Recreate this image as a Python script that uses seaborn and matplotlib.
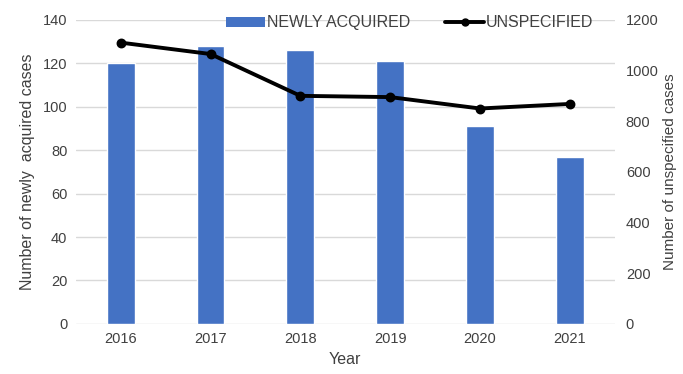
import matplotlib
matplotlib.use("Agg")
import matplotlib.pyplot as plt
import seaborn as sns
import pandas as pd
from matplotlib.patches import Patch
from matplotlib.lines import Line2D

years = ["2016", "2017", "2018", "2019", "2020", "2021"]
newly_acquired = [120, 128, 126, 121, 91, 77]
unspecified = [1110, 1065, 900, 895, 850, 868]

sns.set_theme(style="white")
plt.rcParams["font.family"] = ["Liberation Sans", "DejaVu Sans"]

df = pd.DataFrame({"Year": years, "Newly": newly_acquired, "Unspecified": unspecified})

fig = plt.figure(figsize=(6.83, 3.74), dpi=100)
ax = fig.add_axes([0.111, 0.134, 0.789, 0.813])

bar_color = "#4472C4"
text_color = "#404040"
grid_color = "#D9D9D9"

sns.barplot(data=df, x="Year", y="Newly", color=bar_color, width=0.31,
            saturation=1, ax=ax, zorder=2)
ax.set_ylim(0, 140)
ax.set_yticks(range(0, 141, 20))
ax.yaxis.grid(True, color=grid_color, linewidth=1, zorder=0)
ax.set_axisbelow(True)
for s in ax.spines.values():
    s.set_visible(False)
ax.tick_params(axis="both", length=0, labelsize=10.5, labelcolor=text_color, pad=6)
ax.set_xlabel("Year", fontsize=11.5, color=text_color, labelpad=4)
ax.set_ylabel("Number of newly  acquired cases", fontsize=11.5, color=text_color, labelpad=6)

ax2 = ax.twinx()
sns.pointplot(data=df, x="Year", y="Unspecified", color="black", markers="o",
              markersize=5, linewidth=2.8, ax=ax2)
ax2.set_ylim(0, 1200)
ax2.set_yticks(range(0, 1201, 200))
for s in ax2.spines.values():
    s.set_visible(False)
ax2.tick_params(axis="y", length=0, labelsize=10.5, labelcolor=text_color, pad=8)
ax2.set_ylabel("Number of unspecified cases", fontsize=11, color=text_color, labelpad=3)
ax2.set_xlim(ax.get_xlim())

handles = [
    Patch(facecolor=bar_color, edgecolor="none"),
    Line2D([0], [0], color="black", linewidth=2.8, marker="o", markersize=5),
]
leg = ax2.legend(handles, ["NEWLY ACQUIRED", "UNSPECIFIED"], loc="center",
                 bbox_to_anchor=(0.62, 0.99), ncol=2, frameon=False,
                 fontsize=11.5, handlelength=2.4, handleheight=0.55,
                 handletextpad=0.15, columnspacing=2.2)
for t in leg.get_texts():
    t.set_color(text_color)

fig.savefig("out.png", dpi=100)
